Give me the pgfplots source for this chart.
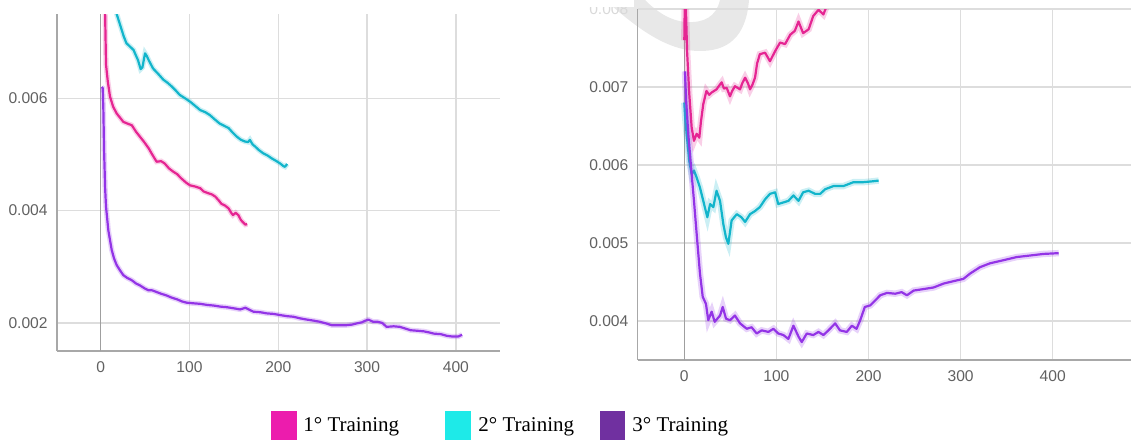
\documentclass[border=0pt]{standalone}
\usepackage{fontspec}
\setmainfont{Liberation Serif}
\newfontfamily\tickfont{Liberation Sans}
\usepackage{pgfplots}
\usepackage{pgfplotstable}
\pgfplotsset{compat=1.18}
\definecolor{cpink}{HTML}{E52592}
\definecolor{ccyan}{HTML}{12B5CB}
\definecolor{cpurple}{HTML}{9334E6}
\definecolor{lpink}{HTML}{EC1CAD}
\definecolor{lcyan}{HTML}{1EEAE8}
\definecolor{lpurple}{HTML}{7030A0}
\definecolor{tickgray}{HTML}{616161}
\definecolor{gridgray}{HTML}{DDDDDD}
\definecolor{axgray}{HTML}{A8A8A8}

\pgfplotstableread{
x y
4 0.0085
5 0.0075
6 0.0066
8 0.0063
10.5 0.00603
14 0.00585
18 0.00573
25.5 0.00558
30 0.00555
35 0.00552
40 0.0054
44 0.00532
49 0.00522
54 0.00511
58 0.005
63 0.00487
68 0.00488
72 0.00484
77 0.00475
82 0.00469
86 0.00465
91 0.00457
96 0.0045
100.6 0.00445
106 0.00443
112 0.0044
116 0.00434
121 0.00431
125 0.00429
129 0.00425
133 0.00418
136 0.00412
140 0.00409
144 0.00404
147 0.00396
149 0.00392
152 0.00396
155 0.00392
158 0.00383
161 0.00378
163 0.00375
165 0.00376
}\Lpink

\pgfplotstableread{
x y
16 0.0078
18 0.0075
22 0.0073
26 0.0071
29 0.00698
33 0.00692
37 0.00686
40 0.00675
42 0.00668
45 0.00652
47 0.00655
49 0.00672
50 0.0068
52 0.00675
54 0.00668
59 0.00653
65 0.00643
70.6 0.00633
75 0.00628
80 0.00621
85 0.00613
89 0.00606
95 0.006
100.6 0.00594
106 0.00587
112 0.00579
118 0.00575
123 0.0057
128 0.00563
134 0.00555
139 0.00551
144 0.00547
148 0.0054
153 0.00532
158 0.00526
162.5 0.00523
166 0.00522
168 0.00526
171 0.00518
174 0.00514
178 0.00508
183 0.00502
188 0.00498
192.6 0.00493
197 0.00489
202 0.00484
206 0.00479
207.6 0.00478
210 0.00483
}\Lcyan

\pgfplotstableread{
x y
1 0.0062
2.3 0.00618
3 0.0058
3.8 0.00508
5 0.0044
6 0.00407
8.6 0.00365
12.4 0.0033
15 0.00315
18 0.00303
22 0.00293
25.5 0.00285
30 0.0028
35 0.00276
40 0.0027
44 0.00267
50 0.00261
54 0.00258
58 0.00258
63 0.00255
68 0.00252
74 0.00249
80 0.00245
86 0.00242
92 0.00238
97 0.00236
104 0.00235
112 0.00234
120 0.00232
127 0.00231
135 0.00229
142 0.00228
150 0.00226
157 0.00224
163 0.00227
168 0.00223
172 0.0022
180 0.00219
187 0.00217
195 0.00216
202 0.00214
210 0.00212
217 0.00211
225 0.00208
232 0.00206
240 0.00204
247 0.00202
254 0.00199
260 0.00196
268 0.00196
277 0.00196
283 0.00197
288 0.00199
294 0.00201
298 0.00204
301.5 0.00206
304 0.00204
307 0.00202
312 0.00202
317 0.002
322 0.00193
330 0.00194
337 0.00193
343 0.0019
349 0.00187
357 0.00186
364 0.00185
370 0.00183
375 0.00181
383 0.0018
390 0.00177
395 0.00176
399 0.00176
403 0.00176
407 0.00179
}\Lpurple

\pgfplotstableread{
x y
0 0.0076
1 0.0085
2 0.0079
3 0.00746
5.4 0.00691
8 0.00648
10.5 0.00631
13.4 0.0064
16.3 0.00635
18 0.00655
20.6 0.00678
24 0.00695
27 0.0069
29.7 0.00693
35 0.00697
38 0.00702
40.6 0.00706
43 0.00698
46 0.00699
49.6 0.00688
52 0.00695
55 0.00701
60.5 0.00697
63 0.00705
66 0.00712
69 0.00705
71.4 0.00697
74 0.00703
76.8 0.00712
79 0.0073
82 0.00742
87.7 0.00744
93 0.00733
98.6 0.00746
104 0.00757
109.4 0.00755
115 0.00767
120 0.00772
124 0.00784
127 0.00775
129 0.00769
135 0.00774
140 0.00791
145.7 0.00799
151 0.00793
154.7 0.00804
160 0.0082
}\Rpink

\pgfplotstableread{
x y
0 0.0068
1 0.0066
2.5 0.0064
5.4 0.00605
8 0.00588
10.5 0.00593
13.4 0.00584
17 0.00571
20.6 0.00554
25 0.00533
28 0.0055
31.5 0.00546
35 0.00567
38.8 0.00554
42.4 0.00524
45.3 0.00507
47.8 0.00499
51.4 0.00529
57 0.00537
62 0.00533
66 0.00527
71.4 0.00537
76.8 0.00541
82 0.00546
87.7 0.00556
93 0.00563
98.6 0.00565
102 0.0055
107.6 0.00552
113 0.00554
118.5 0.00561
124 0.00554
129 0.00565
135 0.00567
142 0.00563
147.5 0.00563
153 0.00569
162 0.00573
172.8 0.00573
183.7 0.00578
194.6 0.00578
203.6 0.00579
211 0.0058
}\Rcyan

\pgfplotstableread{
x y
0.7 0.0072
2 0.00682
4.3 0.0064
8 0.00588
10.5 0.00554
13.4 0.00512
17 0.00461
20 0.00431
23.5 0.00422
26 0.00401
29.7 0.00412
33 0.00399
38.8 0.00407
41.7 0.00418
45.3 0.00403
49.6 0.00401
55 0.00407
60.5 0.00397
67.8 0.0039
73 0.00392
78.6 0.00384
84 0.00388
91.3 0.00386
96.7 0.0039
102 0.00384
107.6 0.00382
113 0.00377
118.5 0.00394
124 0.0038
127.5 0.00373
133 0.00384
140 0.00382
145.7 0.00386
151 0.00382
156.5 0.00388
163.8 0.00397
169 0.00388
176.4 0.00386
181.9 0.00394
187 0.0039
191 0.00401
196 0.00418
201.8 0.0042
207 0.00426
212.7 0.00433
220 0.00436
229 0.00435
236 0.00437
241.7 0.00433
249 0.00439
260 0.00441
270.7 0.00443
281.5 0.00448
292 0.00451
303 0.00454
310.5 0.00461
321 0.00469
332 0.00474
346.7 0.00478
361 0.00482
375.7 0.00484
390 0.00486
406.5 0.00487
}\Rpurple

\pgfplotsset{
  tbstyle/.style={
    scale only axis,
    axis lines*=left,
    axis line style={draw=axgray, line width=0.75pt, -},
    grid=major,
    grid style={draw=gridgray, line width=0.75pt},
    major tick length=0pt,
    tick style={draw=none},
    scaled y ticks=false,
    scaled x ticks=false,
    /pgf/number format/assume math mode=true,
    tick label style={font=\tickfont\fontsize{7.8}{9}\selectfont, text=tickgray},
    yticklabel style={inner sep=0pt, xshift=-4.5pt},
    xticklabel style={inner sep=0pt, yshift=-5pt},
    xtick={0,100,200,300,400},
    clip=true,
  },
  raw/.style={line width=2.6pt, opacity=0.22},
  smooth line/.style={line width=1.1pt, line join=round},
}

\begin{document}
\begin{tikzpicture}
\path[use as bounding box] (0,0) rectangle (565.5pt,220.5pt);
\clip (0,0) rectangle (565.5pt,220.5pt);
% faint watermark
\fill[gray!18] (302.5pt,220.5pt) .. controls (318pt,207pt) and (333pt,195pt) .. (350pt,195pt)
  .. controls (363pt,195pt) and (373pt,201pt) .. (374.5pt,220.5pt) -- (360pt,220.5pt)
  .. controls (358pt,212pt) and (352pt,209pt) .. (343pt,209.5pt)
  .. controls (335pt,210pt) and (328pt,215pt) .. (322.5pt,220.5pt) -- cycle;

% left panel
\begin{axis}[tbstyle,
  at={(28.5pt,45pt)}, anchor=south west,
  width=221.5pt, height=168.5pt,
  xmin=-49.2, xmax=449.7, ymin=0.0015, ymax=0.0075,
  ytick={0.002,0.004,0.006}, yticklabels={0.002,0.004,0.006},
]
\draw[color=gray!75, line width=0.8pt] (axis cs:0,0.0015) -- (axis cs:0,0.0075);
\addplot[cpink, raw] table {\Lpink};
\addplot[cpink, smooth line] table {\Lpink};
\addplot[ccyan, raw] table {\Lcyan};
\addplot[ccyan, smooth line] table {\Lcyan};
\addplot[cpurple, raw] table {\Lpurple};
\addplot[cpurple, smooth line] table {\Lpurple};
\end{axis}

% right panel
\begin{axis}[tbstyle,
  at={(318.85pt,40.5pt)}, anchor=south west,
  width=246.65pt, height=175.5pt,
  xmin=-50.6, xmax=485, ymin=0.0035, ymax=0.008,
  ytick={0.004,0.005,0.006,0.007,0.008},
  yticklabels={0.004,0.005,0.006,0.007,{\color{gray!30}0.008}},
]
\draw[color=gray!75, line width=0.8pt] (axis cs:0,0.0035) -- (axis cs:0,0.008);
\addplot[cpink, raw, line width=3.2pt] table {\Rpink};
\addplot[cpink, smooth line] table {\Rpink};
\addplot[ccyan, raw, line width=3.2pt] table {\Rcyan};
\addplot[ccyan, smooth line] table {\Rcyan};
\addplot[cpurple, raw, line width=3.2pt] table {\Rpurple};
\addplot[cpurple, smooth line] table {\Rpurple};
\end{axis}
% top of the clipped 0.008 label is cut off in the reference
\fill[white] (290pt,217.2pt) rectangle (317pt,221pt);

% legend
\fill[lpink] (135.5pt,0.5pt) rectangle (148.35pt,15.15pt);
\node[anchor=base west, inner sep=0pt, font=\fontsize{10.5}{12}\selectfont] at (151.5pt,4.65pt) {1° Training};
\fill[lcyan] (222.5pt,0.5pt) rectangle (235.35pt,15.15pt);
\node[anchor=base west, inner sep=0pt, font=\fontsize{10.5}{12}\selectfont] at (239pt,4.65pt) {2° Training};
\fill[lpurple] (300pt,0.5pt) rectangle (312.5pt,15.15pt);
\node[anchor=base west, inner sep=0pt, font=\fontsize{10.5}{12}\selectfont] at (316pt,4.65pt) {3° Training};
\end{tikzpicture}
\end{document}
